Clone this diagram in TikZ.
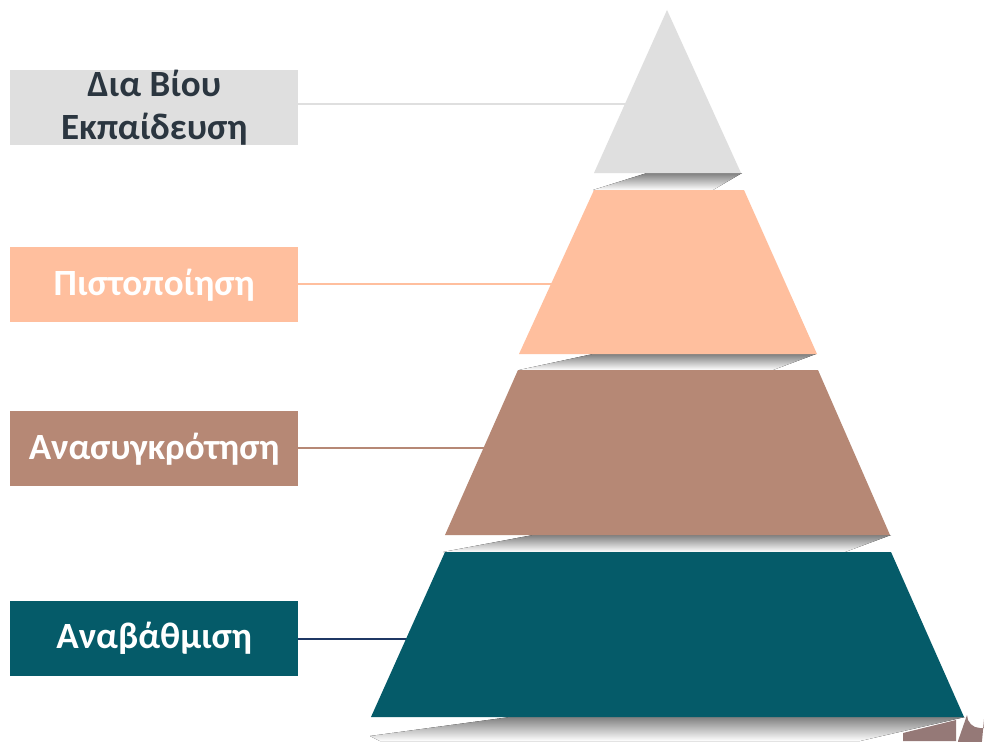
\documentclass[tikz,border=0pt]{standalone}
\usepackage{fontspec}
\setmainfont{Carlito}
\definecolor{tgrey}{HTML}{DFDFDF}
\definecolor{shade}{HTML}{EBEBEB}
\definecolor{peach}{HTML}{FFBF9E}
\definecolor{brownish}{HTML}{B68875}
\definecolor{teal}{HTML}{055B69}
\definecolor{darktext}{HTML}{2B3640}
\definecolor{navy}{HTML}{1F3864}
\definecolor{logo}{HTML}{957977}
\tikzset{
  labelbox/.style={minimum width=288pt, minimum height=75pt, inner sep=0pt, anchor=north west,
    font=\fontsize{37}{43}\selectfont\bfseries, align=center},
  conn/.style={line width=2pt},
}
\begin{document}
\begin{tikzpicture}[x=1pt,y=-1pt]
\useasboundingbox (0,0) rectangle (984,741);
\fill[white] (0,0) rectangle (984,741);
% label boxes
\node[labelbox, fill=tgrey, text=darktext] (b1) at (10,70) {Δια Βίου\\Εκπαίδευση};
\node[labelbox, fill=peach, text=white] (b2) at (10,247) {Πιστοποίηση};
\node[labelbox, fill=brownish, text=white] (b3) at (10,411) {Ανασυγκρότηση};
\node[labelbox, fill=teal, text=white] (b4) at (10,601) {Αναβάθμιση};
% connector ends
\coordinate (e1) at (630,104);
\coordinate (e2) at (556,284);
\coordinate (e3) at (488,448);
\coordinate (e4) at (411,639);
\draw[conn, draw=tgrey] (b1.east |- e1) -- (e1);
\draw[conn, draw=peach] (b2.east |- e2) -- (e2);
\draw[conn, draw=brownish] (b3.east |- e3) -- (e3);
\draw[conn, draw=navy] (b4.east |- e4) -- (e4);
% shadows
\fill[shade] (647,173) -- (742,173) -- (713,190) -- (593,190) -- cycle;
\fill[shade] (593,354) -- (816,354) -- (773,370) -- (519,370) -- cycle;
\fill[shade] (533,535) -- (891,535) -- (845,552) -- (443,552) -- cycle;
\fill[shade] (510,717) -- (965,717) -- (860,741) -- (380,741) -- (370,736) -- cycle;
% tiers
\fill[tgrey] (667,10) -- (741,173) -- (594,173) -- cycle;
\fill[peach] (594,190) -- (744,190) -- (817,354) -- (519,354) -- cycle;
\fill[brownish] (518,370) -- (818,370) -- (890,535) -- (445,535) -- cycle;
\fill[teal] (445,552) -- (891,552) -- (964,717) -- (371,717) -- cycle;
% cropped logo piece
\fill[logo] (903,733) -- (956,720) -- (956,741) -- (903,741) -- cycle;
\fill[logo] (958,741) arc[start angle=180, end angle=90, radius=22] -- (984,719) -- (984,728) -- (980,728) arc[start angle=90, end angle=180, radius=13] -- cycle;
\end{tikzpicture}
\end{document}
